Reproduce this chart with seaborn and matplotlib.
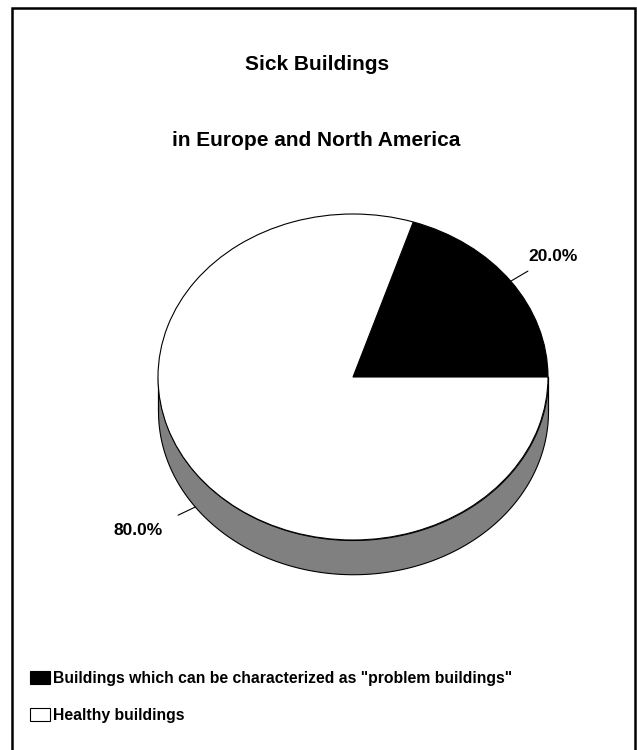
import numpy as np
import seaborn as sns
import matplotlib.pyplot as plt
from matplotlib.patches import Rectangle

sns.set_theme(style="white")
plt.rcParams['font.family'] = ['Liberation Sans', 'DejaVu Sans']
plt.rcParams['text.color'] = 'black'

title_lines = ["Sick Buildings", "in Europe and North America"]
categories = ['Buildings which can be characterized as "problem buildings"', "Healthy buildings"]
shares = [20.0, 80.0]
slice_colors = ["black", "white"]
side_color = "#808080"

depth = 0.21  # thickness of the pie side, in units of the vertical radius

fig = plt.figure(figsize=(6.37, 7.5), dpi=100)
fig.patches.append(Rectangle((12 / 637, -0.01), 623 / 637, 0.999, transform=fig.transFigure,
                             fill=False, edgecolor="black", linewidth=1.8))

# axes so that x in [-1.1, 1.1] spans the pie width and y spans top face + side
pad = 0.1
rx_px, ry_px = 195, 163
cx_px, cy_px = 353, 377
left = (cx_px - rx_px * (1 + pad)) / 637
width = 2 * rx_px * (1 + pad) / 637
top_px = cy_px - ry_px * (1 + pad)
bot_px = cy_px + ry_px * (1 + depth + pad)
ax = fig.add_axes([left, (750 - bot_px) / 750, width, (bot_px - top_px) / 750])

wedges, _ = ax.pie(shares, colors=slice_colors, startangle=0, counterclock=True,
                   wedgeprops=dict(edgecolor="black", linewidth=0.8))

# side of the disc (lower half only is visible)
t = np.linspace(np.pi, 2 * np.pi, 200)
ax.fill_between(np.cos(t), np.sin(t), np.sin(t) - depth, color=side_color,
                edgecolor="black", linewidth=0.8, zorder=0)
ax.plot([-1, -1], [0, -depth], color="black", lw=0.8, zorder=0.5)
ax.plot([1, 1], [0, -depth], color="black", lw=0.8, zorder=0.5)

ax.set_aspect("auto")
ax.set_xlim(-1 - pad, 1 + pad)
ax.set_ylim(-1 - depth - pad, 1 + pad)
ax.axis("off")

# percentage labels with leader lines
for w, val in zip(wedges, shares):
    mid = np.deg2rad((w.theta1 + w.theta2) / 2)
    x, y = np.cos(mid), np.sin(mid)
    if y < 0:
        y -= depth
        ex, ey = x - 0.088, y - 0.05
        ax.plot([x, ex], [y, ey], color="black", lw=0.8, clip_on=False)
        ax.text(ex - 0.08, ey - 0.093, f"{val:.1f}%", ha="right", va="center",
                fontsize=12.5, fontweight="bold")
    else:
        ex, ey = x + 0.088, y + 0.062
        ax.plot([x, ex], [y, ey], color="black", lw=0.8, clip_on=False)
        ax.text(ex, ey + 0.09, f"{val:.1f}%", ha="left", va="center",
                fontsize=12.5, fontweight="bold")

fig.text(0.497, 1 - 65 / 750, title_lines[0], ha="center", va="center", fontsize=15, fontweight="bold")
fig.text(0.497, 1 - 140 / 750, title_lines[1], ha="center", va="center", fontsize=15, fontweight="bold")

leg = fig.legend(wedges, categories, loc="upper left", bbox_to_anchor=(24 / 637, 1 - 665 / 750),
                 frameon=False, prop=dict(size=11.3, weight="bold"), handlelength=1.27, handleheight=0.87,
                 handletextpad=0.15, labelspacing=1.4, borderaxespad=0)

fig.savefig("out.png", dpi=100)
